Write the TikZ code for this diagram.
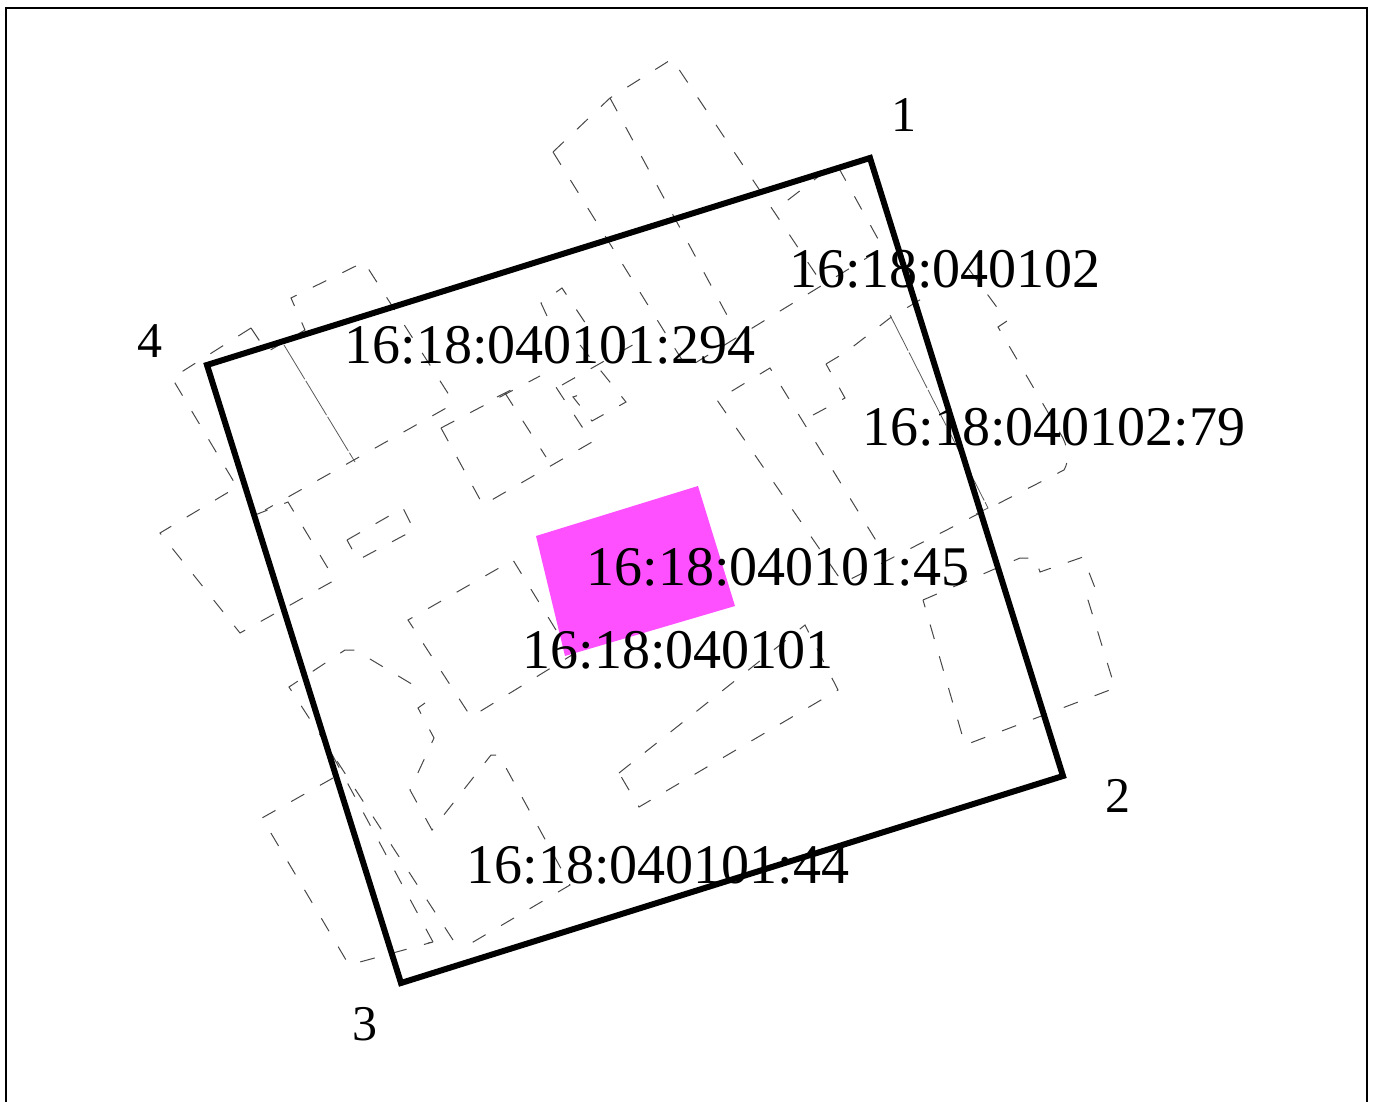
\documentclass[tikz,border=0pt]{standalone}
\usepackage{fontspec}
\setmainfont{Liberation Serif}
\definecolor{pinkfill}{RGB}{255,80,255}
\tikzset{
  parcel/.style={draw=black!72,line width=1pt,dash pattern=on 15pt off 18pt},
  fineline/.style={draw=black!65,line width=0.8pt,dash pattern=on 40pt off 2pt},
  boundary/.style={draw=black,line width=6pt,line join=miter},
  frameline/.style={draw=black,line width=2pt},
  cadlabel/.style={font=\fontsize{56pt}{60pt}\selectfont,inner sep=0pt},
  ptlabel/.style={font=\fontsize{50pt}{54pt}\selectfont,inner sep=0pt}
}
\begin{document}
\begin{tikzpicture}[x=1pt,y=-1pt]
\useasboundingbox (0,0) rectangle (1377,1102);
\draw[frameline] (6,1102) -- (6,8) -- (1367,8) -- (1367,1102);
\fill[pinkfill] (536,536) -- (698,486) -- (735,606) -- (565,656) -- cycle;
% top buildings
\draw[parcel] (553,152) -- (610,98) -- (672,59) -- (823,285);
\draw[parcel] (610,98) -- (735,330);
\draw[parcel] (553,152) -- (687,368) -- (883,248) -- (836,163) -- (775,210);
\draw[parcel] (968,268) -- (1007,321) -- (998,327) -- (1060,433) .. controls (1068,445) and (1070,460) .. (1064,470) -- (843,583) -- (717,400) -- (770,368) -- (880,547);
\draw[parcel] (813,415) -- (845,398) -- (826,364);
\draw[parcel] (826,364) -- (846,352) -- (890,318) -- (928,295);
\draw[fineline] (890,315) -- (988,508) -- (976,514);
% upper left
\draw[parcel] (251,328) -- (172,378) -- (237,487) -- (160,533) -- (240,633) -- (335,580) -- (288,502) -- (255,515);
\draw[parcel] (251,328) -- (267,352) -- (305,330) -- (291,298) -- (364,262) -- (451,398) -- (448,407) -- (265,510);
\draw[fineline] (284,345) -- (355,462);
\draw[parcel] (547,316) -- (541,303) -- (562,288) -- (586,324) -- (578,332);
\draw[parcel] (580,345) -- (626,402) -- (592,421) -- (573,397) -- (582,394);
\draw[parcel] (562,385) -- (645,338);
\draw[parcel] (441,428) -- (483,505) -- (592,442) -- (548,375);
\draw[parcel] (441,428) -- (540,376);
\draw[parcel] (497,397) -- (513,389);
\draw[parcel] (505,393) -- (546,457);
\draw[parcel] (347,540) -- (403,508) -- (414,530) -- (358,560) -- cycle;
% centre
\draw[parcel] (556,630) -- (513,560) -- (408,620) -- (471,717) -- (572,655);
\draw[parcel] (619,773) -- (805,625) -- (838,690) -- (639,807) -- cycle;
% lower left
\draw[parcel] (453,940) -- (289,687) -- (345,650) -- (355,650) -- (425,692);
\draw[parcel] (425,703) -- (418,708) -- (434,738) -- (410,790) -- (432,830) -- (491,755) -- (499,755) -- (570,885) -- (463,948);
\draw[parcel] (333,778) -- (262,818) -- (349,965) -- (433,942) -- (428,943);
\draw[parcel] (433,942) -- (327,745);
% right
\draw[parcel] (923,600) -- (1020,558) -- (1035,558) -- (1040,572) -- (1083,557) -- (1097,593) -- (1088,600) -- (1115,688) -- (965,745) -- cycle;
% boundary
\coordinate (p1) at (870,158);
\coordinate (p2) at (1063,776);
\coordinate (p3) at (401,983);
\coordinate (p4) at (207,365);
\draw[boundary] (p1) -- (p2) -- (p3) -- (p4) -- cycle;
\node[ptlabel] (n1) at (904,115) {1};
\node[ptlabel] (n2) at (1118,796) {2};
\node[ptlabel] (n3) at (365,1024) {3};
\node[ptlabel] (n4) at (150,341) {4};
\node[cadlabel] (a) at (945,269) {16:18:040102};
\node[cadlabel] (b) at (550,345) {16:18:040101:294};
\node[cadlabel] (c) at (1054,427) {16:18:040102:79};
\node[cadlabel] (d) at (778,567) {16:18:040101:45};
\node[cadlabel] (e) at (678,650) {16:18:040101};
\node[cadlabel] (f) at (658,865) {16:18:040101:44};
\end{tikzpicture}
\end{document}
